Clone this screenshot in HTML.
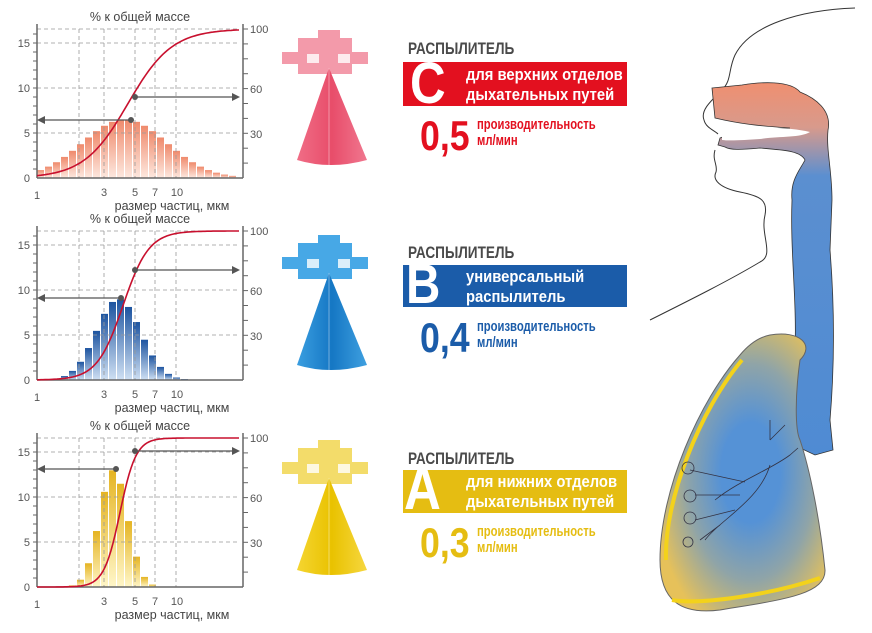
<!DOCTYPE html>
<html><head><meta charset="utf-8">
<style>
body{margin:0;background:#fff;width:872px;height:633px;overflow:hidden;position:relative;font-family:"Liberation Sans",sans-serif}
.n{font-family:"Liberation Sans Narrow","Liberation Sans",sans-serif;font-weight:bold;position:absolute;white-space:nowrap;transform-origin:0 0}
.h{transform:scaleX(0.8)}
.t{transform:scaleX(0.87)}
.p{transform:scaleX(0.75)}
.v{transform:scaleX(0.85)}
</style></head><body>
<svg id="s" width="872" height="633" style="position:absolute;left:0;top:0" font-family="Liberation Sans, sans-serif">
<defs>
<linearGradient id="g0" x1="0" y1="0" x2="0" y2="1"><stop offset="0" stop-color="#ef8a6c"/><stop offset="1" stop-color="#fde8df"/></linearGradient>
<linearGradient id="g1" x1="0" y1="0" x2="0" y2="1"><stop offset="0" stop-color="#1d54a0"/><stop offset="1" stop-color="#cfe0f3"/></linearGradient>
<linearGradient id="g2" x1="0" y1="0" x2="0" y2="1"><stop offset="0" stop-color="#e5b422"/><stop offset="1" stop-color="#fff6c8"/></linearGradient>
<linearGradient id="air" x1="0" y1="0" x2="0" y2="1"><stop offset="0" stop-color="#ef8f70"/><stop offset="0.12" stop-color="#d89a8c"/><stop offset="0.25" stop-color="#5b8fd0"/><stop offset="1" stop-color="#4f8bd3"/></linearGradient>
<radialGradient id="lung" cx="0.55" cy="0.5" r="0.6"><stop offset="0.3" stop-color="#5592d6"/><stop offset="0.65" stop-color="#8fa4a8"/><stop offset="1" stop-color="#e6c15a"/></radialGradient>
<linearGradient id="pk" x1="0" x2="1"><stop offset="0" stop-color="#f06d86"/><stop offset="0.5" stop-color="#e84d6a"/><stop offset="1" stop-color="#f0778f"/></linearGradient>
<linearGradient id="bl" x1="0" x2="1"><stop offset="0" stop-color="#3a9ee0"/><stop offset="0.5" stop-color="#1577c4"/><stop offset="1" stop-color="#3fa0e0"/></linearGradient>
<linearGradient id="yl" x1="0" x2="1"><stop offset="0" stop-color="#f5d531"/><stop offset="0.5" stop-color="#e9c200"/><stop offset="1" stop-color="#f6d740"/></linearGradient>
</defs>
<g id="charts"></g>
<g id="noz"></g>
<path d="M855 8 C800 10 750 25 735 55 C728 70 732 80 722 90 C712 100 700 110 704 120 C706 128 714 130 718 134" fill="none" stroke="#333" stroke-width="1"/>
<path d="M715 150 C712 160 718 165 716 172 C712 180 720 188 740 192 C760 196 768 200 765 215 C760 235 775 255 760 262 C730 280 690 300 650 320" fill="none" stroke="#333" stroke-width="1"/>
<path d="M712 88 L742 85 C760 82 790 80 800 92 C815 98 832 110 828 130 C826 150 832 170 832 200 L830 250 C834 300 835 360 830 420 L833 450 L815 455 L798 447 C795 420 790 400 795 350 C797 300 790 250 792 200 C790 180 800 170 805 160 C800 150 780 150 760 148 C740 150 730 150 725 147 L718 145 L720 138 C730 134 750 130 790 128 C760 126 740 124 715 118 Z" fill="url(#air)" stroke="#333" stroke-width="0.8"/>
<path d="M722 135 C745 128 780 125 810 132 C800 138 780 136 760 139 C745 140 730 141 722 140 Z" fill="#fff"/>
<path d="M770 335 C800 330 815 345 800 360 C795 395 795 430 800 440 C810 470 820 520 825 570 C826 595 780 600 720 610 C680 615 660 600 660 560 C660 490 700 400 740 355 C750 343 760 337 770 335 Z" fill="url(#lung)" stroke="#666" stroke-width="1"/>
<path d="M666 560 C664 500 700 410 742 360" fill="none" stroke="#f3d21b" stroke-width="4"/>
<path d="M672 600 C700 605 770 595 820 578" fill="none" stroke="#f3d21b" stroke-width="4"/>
<path d="M798 448 L790 455 C770 470 740 480 715 500 M770 465 C760 500 720 520 705 540 M745 482 L690 470 M740 495 L695 495 M735 510 L695 520 M720 525 L700 540 M770 440 L770 420 M770 440 L785 425" fill="none" stroke="#334" stroke-width="0.8"/>
<g fill="none" stroke="#334" stroke-width="0.8"><circle cx="688" cy="468" r="6"/><circle cx="690" cy="496" r="6"/><circle cx="690" cy="518" r="6"/><circle cx="688" cy="542" r="5"/></g>
</svg>

<div class="n h" style="left:408px;top:39px;font-size:17px;color:#4a4a4a">РАСПЫЛИТЕЛЬ</div>
<div style="position:absolute;left:403px;top:62px;width:224px;height:44px;background:#e3101f"></div>
<div class="n v" style="left:410px;top:56px;font-size:58px;line-height:56px;color:#fff">C</div>
<div class="n t" style="left:466px;top:65px;font-size:17px;line-height:20px;color:#fff">для верхних отделов<br>дыхательных путей</div>
<div class="n v" style="left:420px;top:112px;font-size:42px;color:#e3101f">0,5</div>
<div class="n p" style="left:477px;top:117px;font-size:15px;line-height:16px;color:#e3101f">производительность<br>мл/мин</div>

<div class="n h" style="left:408px;top:243px;font-size:17px;color:#4a4a4a">РАСПЫЛИТЕЛЬ</div>
<div style="position:absolute;left:403px;top:265px;width:224px;height:42px;background:#1b5ca9"></div>
<div class="n v" style="left:406px;top:256px;font-size:56px;line-height:56px;color:#fff">B</div>
<div class="n t" style="left:466px;top:267px;font-size:17px;line-height:20px;color:#fff">универсальный<br>распылитель</div>
<div class="n v" style="left:420px;top:314px;font-size:42px;color:#1b5ca9">0,4</div>
<div class="n p" style="left:477px;top:319px;font-size:15px;line-height:16px;color:#1b5ca9">производительность<br>мл/мин</div>

<div class="n h" style="left:408px;top:449px;font-size:17px;color:#4a4a4a">РАСПЫЛИТЕЛЬ</div>
<div style="position:absolute;left:403px;top:470px;width:224px;height:43px;background:#e5bd12"></div>
<div class="n v" style="left:404px;top:460px;font-size:60px;line-height:58px;color:#fff">A</div>
<div class="n t" style="left:466px;top:472px;font-size:17px;line-height:20px;color:#fff">для нижних отделов<br>дыхательных путей</div>
<div class="n v" style="left:420px;top:519px;font-size:42px;color:#e5bd12">0,3</div>
<div class="n p" style="left:477px;top:524px;font-size:15px;line-height:16px;color:#e5bd12">производительность<br>мл/мин</div>

<script>
var out="";
var cfg=[{o:0,g:"g0",c:125,s:42,p:6.5,k:128,w:22,dl:[131,120],dr:[135,97]},
{o:202,g:"g1",c:119,s:22,p:9,k:123,w:13,dl:[121,96],dr:[135,68]},
{o:409,g:"g2",c:114,s:14,p:13,k:120,w:8,dl:[116,60],dr:[135,42]}];
cfg.forEach(function(c){var o=c.o,b=178+o,t=29+o;var h="";
h+='<text x="140" y="'+(21+o)+'" font-size="12.5" fill="#444" text-anchor="middle">% к общей массе</text>';
for(var x=37;x<235;x+=8){var v=c.p*Math.exp(-Math.pow(x+4-c.c,2)/(2*c.s*c.s));var hh=v*9;if(hh<0.8)continue;h+='<rect x="'+x+'" y="'+(b-hh)+'" width="7" height="'+hh+'" fill="url(#'+c.g+')"/>';}
[79,104,135,155,176].forEach(function(x){h+='<line x1="'+x+'" y1="'+t+'" x2="'+x+'" y2="'+b+'" stroke="#999" stroke-dasharray="4,3" stroke-width="0.8"/>';});
[t,43+o,88+o,133+o].forEach(function(y){h+='<line x1="37" y1="'+y+'" x2="240" y2="'+y+'" stroke="#999" stroke-dasharray="4,3" stroke-width="0.8"/>';});
h+='<line x1="37" y1="'+(t-5)+'" x2="37" y2="'+b+'" stroke="#666" stroke-width="1.5"/><line x1="37" y1="'+b+'" x2="243" y2="'+b+'" stroke="#666" stroke-width="1.5"/><line x1="243" y1="'+(t-5)+'" x2="243" y2="'+b+'" stroke="#666" stroke-width="1.5"/>';
for(var i=1;i<17;i++){var y=b-i*9;h+='<line x1="33" y1="'+y+'" x2="37" y2="'+y+'" stroke="#666"/>';}
for(var i=1;i<=10;i++){var y=b-i*14.9;h+='<line x1="243" y1="'+y+'" x2="248" y2="'+y+'" stroke="#666"/>';}
[["15",43],["10",88],["5",133],["0",178]].forEach(function(a){h+='<text x="30" y="'+(a[1]+4+o)+'" font-size="11" fill="#555" text-anchor="end">'+a[0]+'</text>';});
[["100",t],["60",89+o],["30",134+o]].forEach(function(a){h+='<text x="250" y="'+(a[1]+4)+'" font-size="11" fill="#555">'+a[0]+'</text>';});
[["1",37,199],["3",104,196],["5",135,196],["7",155,196],["10",177,196]].forEach(function(a){h+='<text x="'+a[1]+'" y="'+(a[2]+o)+'" font-size="11" fill="#555" text-anchor="middle">'+a[0]+'</text>';});
h+='<text x="172" y="'+(210+o)+'" font-size="12.5" fill="#444" text-anchor="middle">размер частиц, мкм</text>';
var p="";for(var x=37;x<=240;x+=2){var y=b-(b-t)/(1+Math.exp(-(x-c.k)/c.w));p+=(x==37?"M":"L")+x+" "+y.toFixed(1);}
h+='<path d="'+p+'" fill="none" stroke="#c8102e" stroke-width="1.6"/>';
var yl=c.dl[1]+o,yr=c.dr[1]+o;
h+='<line x1="44" y1="'+yl+'" x2="'+c.dl[0]+'" y2="'+yl+'" stroke="#555" stroke-width="1.2"/><path d="M37 '+yl+' l8 -4 v8z" fill="#555"/><circle cx="'+c.dl[0]+'" cy="'+yl+'" r="3" fill="#555"/>';
h+='<line x1="'+c.dr[0]+'" y1="'+yr+'" x2="233" y2="'+yr+'" stroke="#555" stroke-width="1.2"/><path d="M240 '+yr+' l-8 -4 v8z" fill="#555"/><circle cx="'+c.dr[0]+'" cy="'+yr+'" r="3" fill="#555"/>';
out+=h;});
document.getElementById("charts").innerHTML=out;
var nz="";[[30,"pk","#f39aaa"],[235,"bl","#47a8e6"],[440,"yl","#f3dc6a"]].forEach(function(a){var y=a[0];
nz+='<path d="M318 '+(y)+'h22v8h12v14h16v12h-16v10h-54v-10h-16v-12h16v-14h20z" fill="'+a[2]+'"/>';
nz+='<rect x="307" y="'+(y+24)+'" width="12" height="9" fill="#fff" opacity="0.8"/><rect x="338" y="'+(y+24)+'" width="12" height="9" fill="#fff" opacity="0.8"/>';
nz+='<path d="M329 '+(y+38)+'L367 '+(y+130)+'Q330 '+(y+140)+' 297 '+(y+130)+'Z" fill="url(#'+a[1]+')"/><line x1="329" y1="'+(y+38)+'" x2="329" y2="'+(y+135)+'" stroke="#fff" stroke-opacity="0.4"/>';});
document.getElementById("noz").innerHTML=nz;
</script>
</body></html>
